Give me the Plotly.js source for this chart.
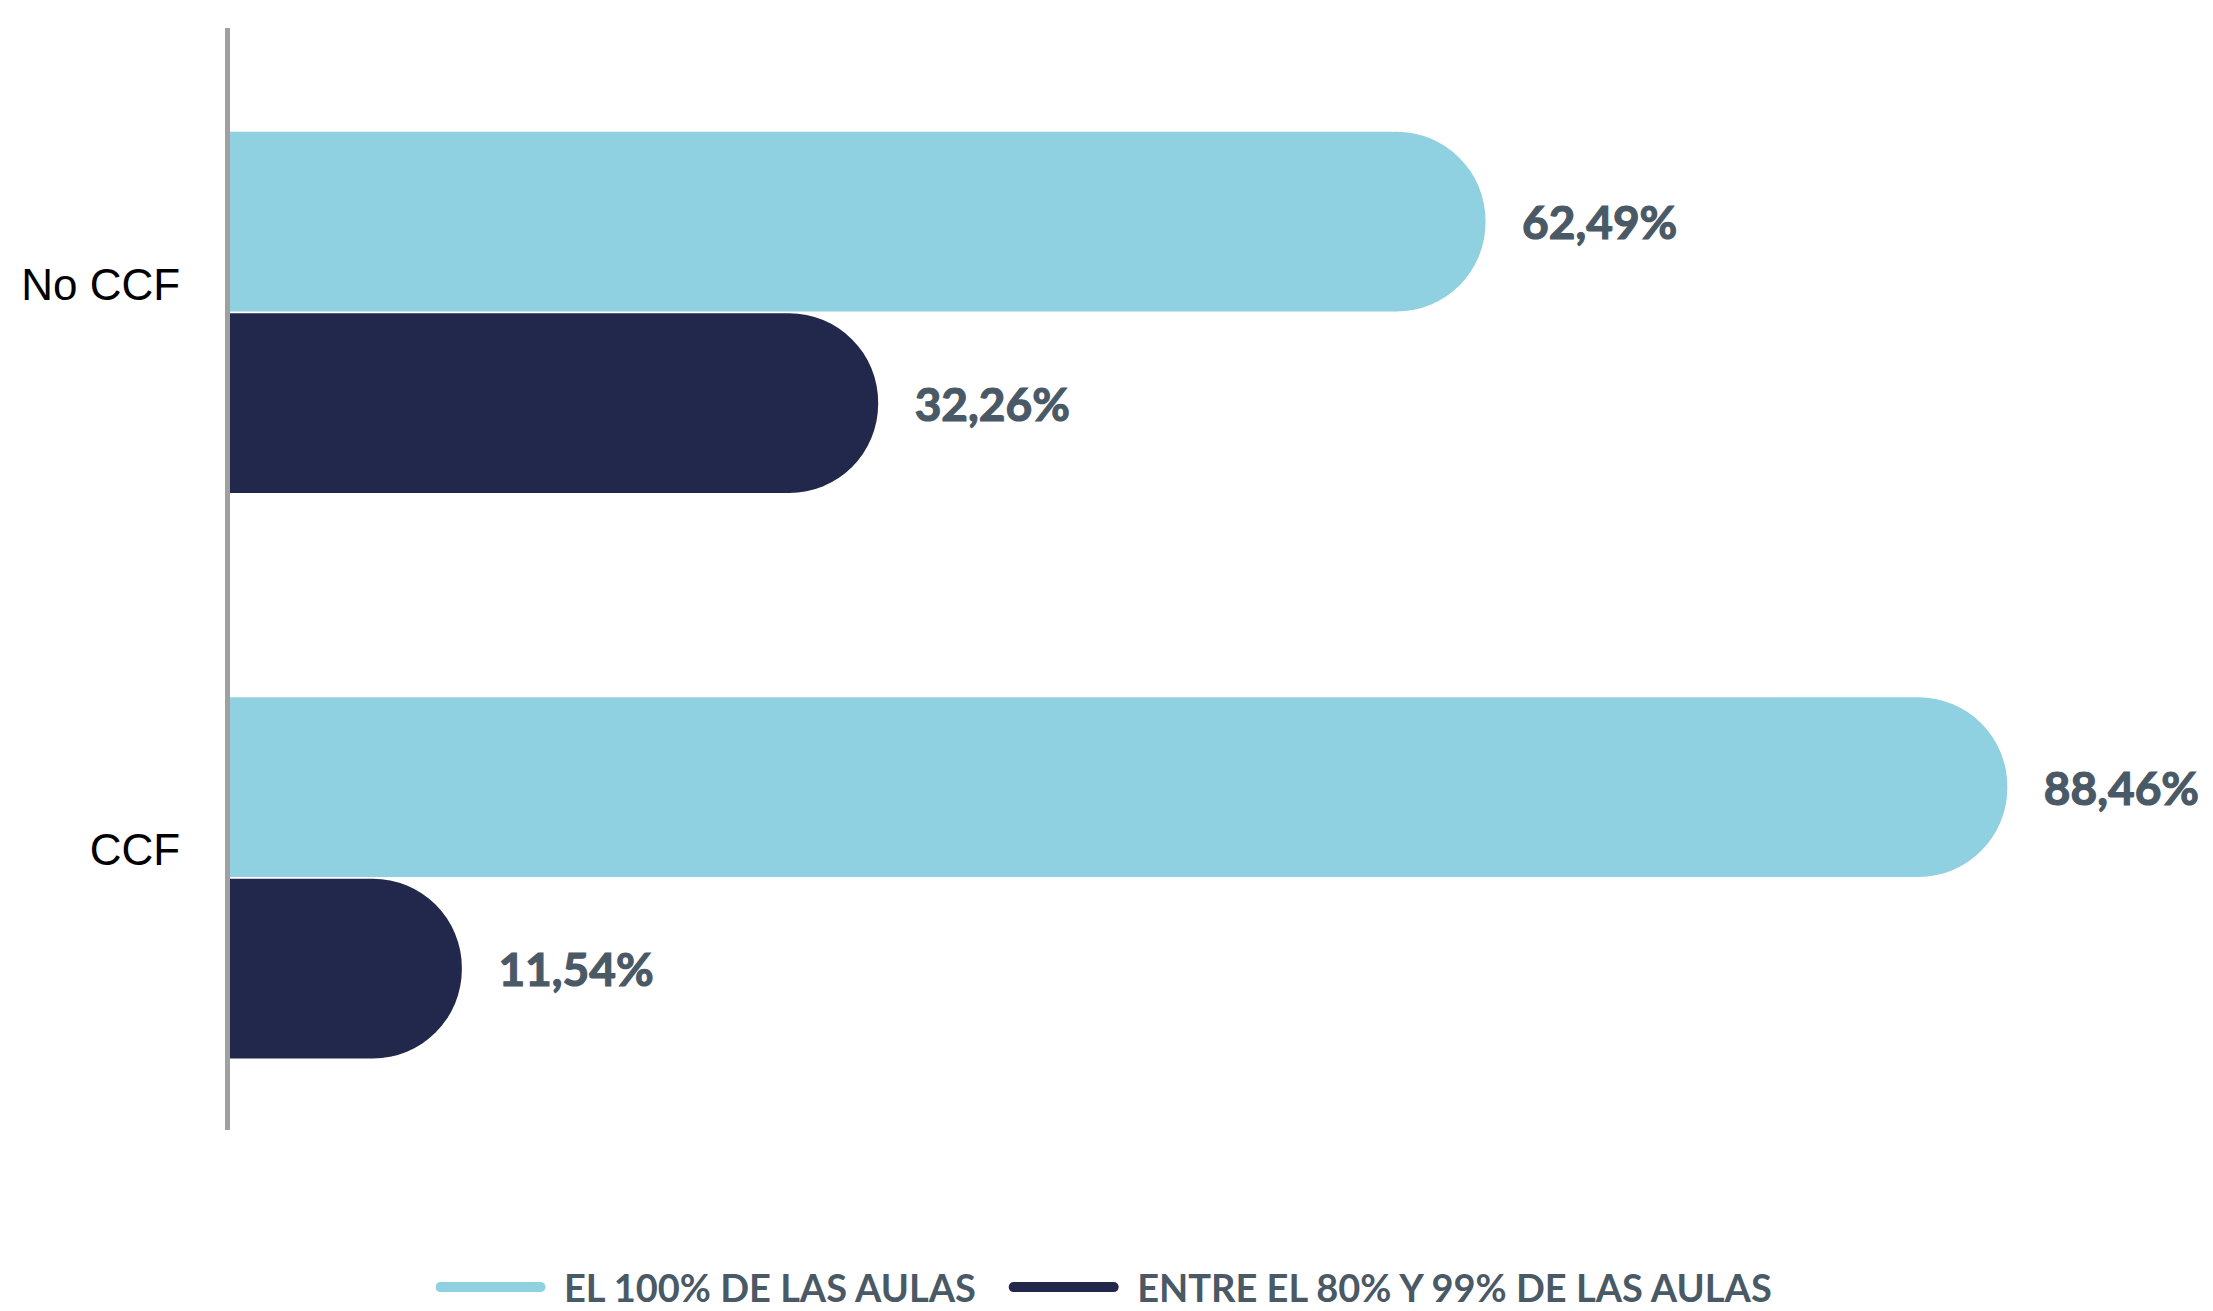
<!DOCTYPE html>
<html>
<head>
<meta charset="utf-8">
<script src="https://cdn.plot.ly/plotly-3.0.1.min.js"></script>
<style>
html,body{margin:0;padding:0;background:#fff;}
#chart{width:2213px;height:1311px;}
#chart .legendlines path{stroke-linecap:round;}
#chart .bartext{stroke:#4a5966;stroke-width:1.2px;}
</style>
</head>
<body>
<div id="chart"></div>
<script>
const categories = ['No CCF', 'CCF'];
const seriesNames = ['EL 100% DE LAS AULAS', 'ENTRE EL 80% Y 99% DE LAS AULAS'];
const full100 = [62.49, 88.46];
const between80_99 = [32.26, 11.54];
const colors = ['#8fd0e1', '#21284c'];

const nb = '\u00a0';
const pad = nb + nb + nb;
const valueFont = {family: 'Lato, sans-serif', size: 46, color: '#4a5966', weight: 'bold'};

function barTrace(vals, color, name) {
  return {
    type: 'bar', orientation: 'h', y: categories, x: vals, name: name,
    marker: {color: color, cornerradius: '50%', line: {width: 0}},
    texttemplate: pad + '%{x:.2f}%', textposition: 'outside', cliponaxis: false,
    textfont: valueFont, constraintext: 'none',
    showlegend: false, hoverinfo: 'skip'
  };
}
function legendTrace(color, name, trail) {
  return {type: 'scatter', mode: 'lines', x: [null], y: [null],
    name: nb + nb + name + trail,
    line: {color: color, width: 11}, showlegend: true, hoverinfo: 'skip'};
}

const data = [
  barTrace(full100, colors[0], seriesNames[0]),
  barTrace(between80_99, colors[1], seriesNames[1]),
  legendTrace(colors[0], seriesNames[0], nb + nb + nb),
  legendTrace(colors[1], seriesNames[1], '')
];

const layout = {
  width: 2213, height: 1311,
  margin: {l: 230, r: 14, t: 28, b: 181, pad: 0},
  paper_bgcolor: '#ffffff', plot_bgcolor: '#ffffff',
  separators: ',.',
  barmode: 'group', bargap: 0.358, bargroupgap: 0.01,
  xaxis: {range: [0, 98], visible: false, showgrid: false, zeroline: false, fixedrange: true},
  yaxis: {
    type: 'category', categoryorder: 'array', categoryarray: categories,
    range: [1.446, -0.503],
    showline: true, linecolor: '#a0a0a0', linewidth: 5,
    showgrid: false, zeroline: false, ticks: '',
    ticklabelstandoff: 36, ticklabelshift: 28,
    tickfont: {family: '"Liberation Sans", Arial, sans-serif', size: 44, color: '#000000'}
  },
  showlegend: true,
  legend: {
    orientation: 'h', xref: 'container', yref: 'container', x: 0.5, y: 0.018,
    xanchor: 'center', yanchor: 'middle', itemwidth: 100,
    font: {family: 'Lato, sans-serif', size: 38, color: '#4a5966', weight: 'bold'},
    bgcolor: 'rgba(0,0,0,0)'
  }
};

Plotly.newPlot('chart', data, layout, {displayModeBar: false, staticPlot: true});
</script>
</body>
</html>
